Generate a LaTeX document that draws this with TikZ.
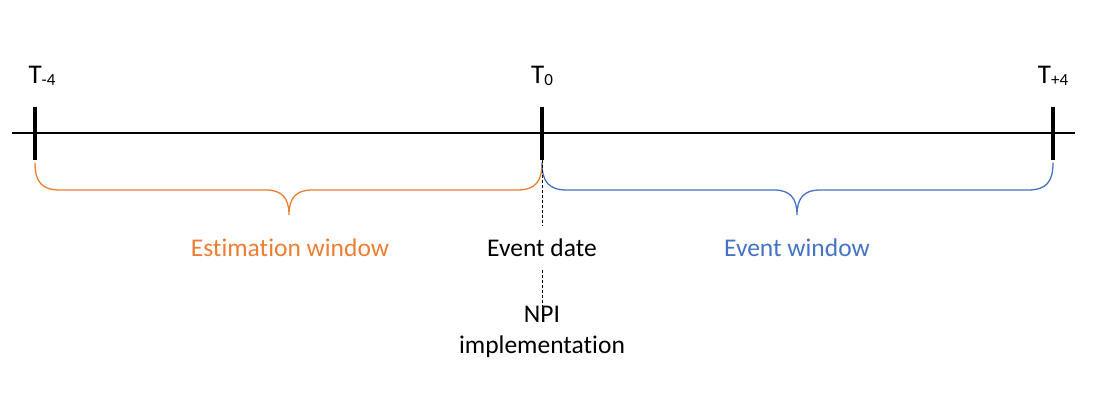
\documentclass[tikz,border=0pt]{standalone}
\usepackage{fontspec}
\setmainfont{Carlito}[Ligatures=NoCommon]
\definecolor{estorange}{HTML}{ED7D31}
\definecolor{evblue}{HTML}{4472C4}
\begin{document}
\begin{tikzpicture}[x=1pt,y=-1pt,
  axis/.style={line width=1.3pt},
  tickmark/.style={fill=black,inner sep=0pt,minimum width=3.2pt,minimum height=53pt},
  tlabel/.style={font=\fontsize{27}{30}\selectfont,inner sep=0pt},
  caption/.style={font=\fontsize{25.5}{30}\selectfont,inner sep=0pt},
  bracepath/.style={line width=1.3pt,line cap=round},
  sepline/.style={dashed,line width=0.7pt,dash pattern=on 3pt off 2pt}]
\useasboundingbox (0,0) rectangle (1105,396);
% time axis
\coordinate (axL) at (12,133);
\coordinate (axR) at (1075,133);
\draw[axis] (axL) -- (axR);
% tick marks
\node[tickmark] (tm) at (35,133) {};
\node[tickmark] (tz) at (542,133) {};
\node[tickmark] (tp) at (1053,133) {};
% tick labels
\node[tlabel] (lm) at (42,76) {T{\fontsize{17}{20}\selectfont\raisebox{-1.5pt}{-4}}};
\node[tlabel] (lz) at (542,76) {T{\fontsize{17}{20}\selectfont\raisebox{-1.5pt}{0}}};
\node[tlabel] (lp) at (1053,76) {T{\fontsize{17}{20}\selectfont\raisebox{-1.5pt}{+4}}};
% estimation window brace
\draw[bracepath,estorange] (35,163) .. controls (35,182) and (42,190) .. (60,190)
  -- (266,190) .. controls (282,190) and (289,198) .. (289,215)
  .. controls (289,198) and (296,190) .. (312,190)
  -- (517,190) .. controls (535,190) and (542,182) .. (542,163);
% event window brace
\draw[bracepath,evblue] (542,163) .. controls (542,182) and (549,190) .. (567,190)
  -- (774,190) .. controls (790,190) and (797,198) .. (797,215)
  .. controls (797,198) and (804,190) .. (820,190)
  -- (1028,190) .. controls (1046,190) and (1053,182) .. (1053,163);
% captions
\node[caption,estorange] (est) at (290,248) {Estimation window};
\node[caption,evblue] (evw) at (797,248) {Event window};
\node[caption,inner ysep=13pt] (evd) at (542,248) {Event date};
\node[caption,align=center,inner ysep=0pt] (npi) at (542,332) {NPI\\[1pt]implementation};
% event date marker
\draw[sepline] (tz.south) -- (evd.north);
\draw[sepline] (evd.south) -- ([yshift=-10pt]npi.north);
\end{tikzpicture}
\end{document}
